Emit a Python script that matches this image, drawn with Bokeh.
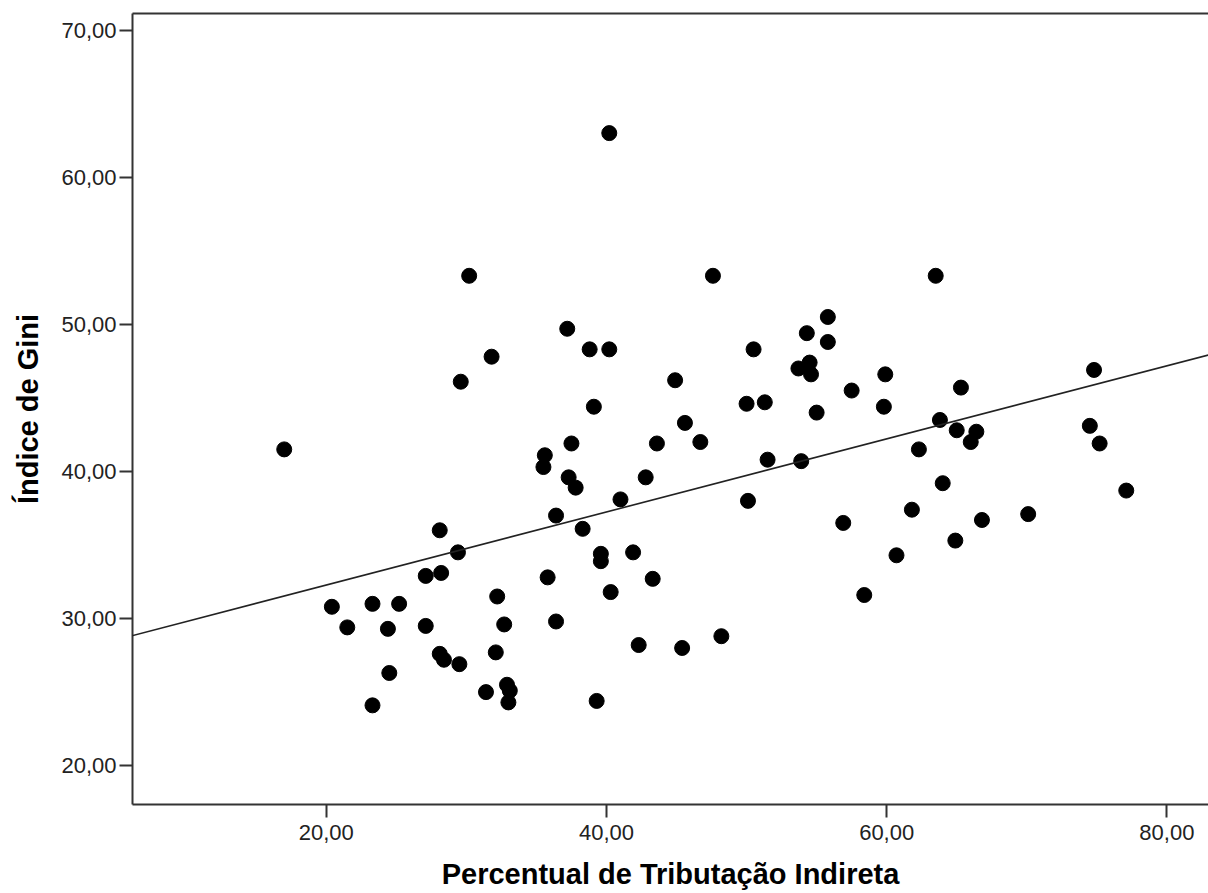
from bokeh.plotting import figure
from bokeh.models import FixedTicker, Slope, LinearAxis, ColumnDataSource
from bokeh.embed import file_html
from bokeh.resources import INLINE

# Data
tributacao = [30.2, 31.8, 29.6, 17.0, 28.1, 29.4, 27.1, 28.2, 32.2, 20.4,
              23.3, 25.2, 21.5, 24.4, 27.1, 32.7, 28.1, 28.4, 29.5, 32.1,
              24.5, 31.4, 32.9, 33.1, 33.0, 23.3, 47.6, 37.2, 38.8, 40.2,
              50.5, 55.8, 54.3, 55.8, 54.5, 53.7, 54.6, 59.9, 57.5, 59.8,
              55.0, 44.9, 39.1, 50.0, 51.3, 45.6, 46.7, 43.6, 37.5, 35.6,
              35.5, 37.3, 37.8, 42.8, 41.0, 36.4, 38.3, 51.5, 53.9, 50.1,
              56.9, 60.7, 39.6, 39.6, 41.9, 35.8, 43.3, 40.3, 36.4, 42.3,
              45.4, 48.2, 39.3, 58.4, 63.5, 65.3, 63.8, 65.0, 66.4, 66.0,
              62.3, 74.8, 74.5, 75.2, 77.1, 64.0, 61.8, 66.8, 70.1, 64.9,
              40.2]
gini = [53.3, 47.8, 46.1, 41.5, 36.0, 34.5, 32.9, 33.1, 31.5, 30.8,
        31.0, 31.0, 29.4, 29.3, 29.5, 29.6, 27.6, 27.2, 26.9, 27.7,
        26.3, 25.0, 25.5, 25.1, 24.3, 24.1, 53.3, 49.7, 48.3, 48.3,
        48.3, 50.5, 49.4, 48.8, 47.4, 47.0, 46.6, 46.6, 45.5, 44.4,
        44.0, 46.2, 44.4, 44.6, 44.7, 43.3, 42.0, 41.9, 41.9, 41.1,
        40.3, 39.6, 38.9, 39.6, 38.1, 37.0, 36.1, 40.8, 40.7, 38.0,
        36.5, 34.3, 34.4, 33.9, 34.5, 32.8, 32.7, 31.8, 29.8, 28.2,
        28.0, 28.8, 24.4, 31.6, 53.3, 45.7, 43.5, 42.8, 42.7, 42.0,
        41.5, 46.9, 43.1, 41.9, 38.7, 39.2, 37.4, 36.7, 37.1, 35.3,
        63.0]

fit_intercept = 27.31
fit_slope = 0.2484

x_ticks = [20, 40, 60, 80]
x_tick_labels = ["20,00", "40,00", "60,00", "80,00"]
y_ticks = [20, 30, 40, 50, 60, 70]
y_tick_labels = ["20,00", "30,00", "40,00", "50,00", "60,00", "70,00"]

x_title = "Percentual de Tributação Indireta"
y_title = "Índice de Gini"

FONT = "Liberation Sans"
AX = "#333333"

p = figure(width=1208, height=893, x_range=(6.17, 82.97), y_range=(17.36, 71.13),
           output_backend="svg", toolbar_location=None,
           min_border_left=132, min_border_right=0, min_border_top=13,
           min_border_bottom=89)
p.outline_line_color = None
p.xgrid.visible = False
p.ygrid.visible = False
p.background_fill_color = "white"
p.border_fill_color = "white"

for ax, ticks, labels in ((p.xaxis[0], x_ticks, x_tick_labels),
                          (p.yaxis[0], y_ticks, y_tick_labels)):
    ax.ticker = FixedTicker(ticks=ticks)
    ax.major_label_overrides = {t: l for t, l in zip(ticks, labels)}
    ax.minor_tick_line_color = None
    ax.major_tick_in = 0
    ax.major_tick_out = 13
    ax.major_tick_line_color = AX
    ax.major_tick_line_width = 2
    ax.axis_line_color = AX
    ax.axis_line_width = 2
    ax.major_label_text_font = FONT
    ax.major_label_text_font_size = "22px"
    ax.major_label_text_color = "#222222"
    ax.axis_label_text_font = FONT
    ax.axis_label_text_font_size = "29px"
    ax.axis_label_text_font_style = "bold"
    ax.axis_label_text_color = "#000000"

p.xaxis.axis_label = x_title
p.yaxis.axis_label = y_title
p.xaxis.major_label_standoff = 7
p.xaxis.axis_label_standoff = 15
p.yaxis.major_label_standoff = 3
p.yaxis.axis_label_standoff = 14

top = LinearAxis(ticker=FixedTicker(ticks=[]), axis_line_color=AX, axis_line_width=2,
                 major_tick_line_color=None, minor_tick_line_color=None,
                 major_label_text_font_size="0px")
p.add_layout(top, "above")

src = ColumnDataSource(data=dict(x=tributacao, y=gini))
p.scatter("x", "y", source=src, size=15, fill_color="black", line_color="black")

p.add_layout(Slope(gradient=fit_slope, y_intercept=fit_intercept,
                   line_color="#222222", line_width=1.6))

open("out.html", "w").write(file_html(p, INLINE))
